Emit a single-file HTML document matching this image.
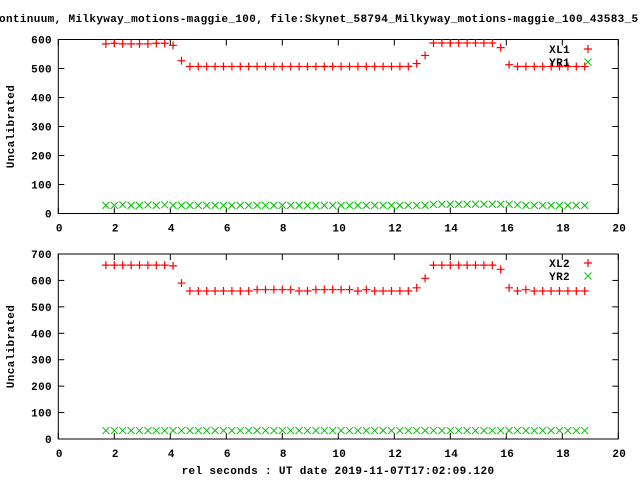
<!DOCTYPE html>
<html><head><meta charset="utf-8"><style>
body{margin:0;background:#fff;}
svg{display:block;font-family:"Liberation Mono",monospace;font-weight:bold;font-size:11px;letter-spacing:0.35px;}
</style></head><body>
<svg id="chart" width="640" height="480" viewBox="0 0 640 480">
<text x="-1" y="22">ontinuum, Milkyway_motions-maggie_100, file:Skynet_58794_Milkyway_motions-maggie_100_43583_5</text>
<text x="338" y="474" text-anchor="middle">rel seconds : UT date 2019-11-07T17:02:09.120</text>
<g id="p1"></g>
<g id="p2"></g>
</svg>
<script>
const xStart = 1.7;
const xStep = 0.3;
const xl1 = [585,587,585,585,585,585,587,587,580,527,507,507,507,507,507,507,507,507,507,507,507,507,507,507,507,507,507,507,507,507,507,507,507,507,507,507,507,517,545,588,588,588,588,588,588,588,588,572,513,507,507,507,507,507,507,507,507,507];
const yr1 = [28,28,30,28,28,30,28,30,28,28,28,28,28,28,28,28,28,28,28,28,28,28,28,28,28,28,28,28,28,28,28,28,28,28,28,28,28,28,28,31,32,32,32,32,32,32,32,32,32,30,28,28,28,28,28,28,28,28];
const xl2 = [658,658,658,658,658,658,658,658,655,590,560,560,560,560,560,560,560,560,565,565,565,565,565,560,560,565,565,565,565,565,560,565,560,560,560,560,560,572,608,658,658,658,658,658,658,658,658,642,572,560,565,560,560,560,560,560,560,560];
const yr2 = [32,32,32,32,32,32,32,32,32,32,32,32,32,32,32,32,32,32,32,32,32,32,32,32,32,32,32,32,32,32,32,32,32,32,32,32,32,32,32,32,32,32,32,32,32,32,32,32,32,32,32,32,32,32,32,32,32,32];
const xTicks = [0,2,4,6,8,10,12,14,16,18,20];
const yTicks1 = [0,100,200,300,400,500,600];
const yTicks2 = [0,100,200,300,400,500,600,700];
const NS='http://www.w3.org/2000/svg';
function mk(tag,attrs,parent){const e=document.createElementNS(NS,tag);for(const k in attrs)e.setAttribute(k,attrs[k]);parent.appendChild(e);return e;}
const L=58.3,R=618.3;
const sx=v=>L+(v-0)/(20-0)*(R-L);
function panel(g,top,bot,ymax,yTicks,s1,s2,n1,n2,legY){
  const sy=v=>bot-(v/ymax)*(bot-top);
  const fr=mk('rect',{x:L,y:top,width:R-L,height:bot-top,fill:'none',stroke:'#000','stroke-width':1},g);
  
  
  xTicks.forEach(t=>{
    const x=sx(t);
    mk('line',{x1:x,y1:bot,x2:x,y2:bot-6,stroke:'#000'},g);
    mk('line',{x1:x,y1:top,x2:x,y2:top+6,stroke:'#000'},g);
    const tx=mk('text',{x:x+1,y:bot+18,'text-anchor':'middle'},g);
    tx.textContent=t;
    
    
  });
  yTicks.forEach(t=>{
    const y=sy(t);
    mk('line',{x1:L,y1:y,x2:L+6,y2:y,stroke:'#000'},g);
    mk('line',{x1:R,y1:y,x2:R-6,y2:y,stroke:'#000'},g);
    const tx=mk('text',{x:52,y:y+4,'text-anchor':'end'},g);
    tx.textContent=t;
    
    
  });
  const yt=mk('text',{x:0,y:0,'text-anchor':'middle',transform:`translate(14,${(top+bot)/2}) rotate(-90)`},g);
  yt.textContent='Uncalibrated';
  
  
  function plus(x,y,par){mk('path',{d:`M${x-4},${y}h8M${x},${y-4}v8`,stroke:'#ff0000','stroke-width':1.2,fill:'none'},par);}
  function cross(x,y,par){mk('path',{d:`M${x-3.5},${y-3.5}l7,7M${x-3.5},${y+3.5}l7,-7`,stroke:'#00c000','stroke-width':1,fill:'none'},par);}
  const g1=mk('g',{},g);
  
  
  const g2=mk('g',{},g);
  
  
  s2.forEach((v,i)=>cross(sx(xStart+i*xStep),sy(v),g2));
  s1.forEach((v,i)=>plus(sx(xStart+i*xStep),sy(v),g1));
  const l1=mk('text',{x:570,y:legY+4,'text-anchor':'end'},g);
  l1.textContent=n1;
  
  
  plus(588,legY,g);
  const l2=mk('text',{x:570,y:legY+17,'text-anchor':'end'},g);
  l2.textContent=n2;
  
  
  cross(588,legY+13,g);
}
panel(document.getElementById('p1'),39.5,213.5,600,yTicks1,xl1,yr1,'XL1','YR1',49);
panel(document.getElementById('p2'),254,439,700,yTicks2,xl2,yr2,'XL2','YR2',263);
</script>
</body></html>
